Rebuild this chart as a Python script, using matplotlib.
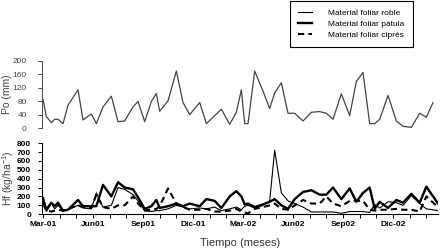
import matplotlib
matplotlib.use('Agg')
import matplotlib.pyplot as plt
from matplotlib.ticker import MultipleLocator

plt.rcParams['font.family'] = ['Liberation Sans', 'DejaVu Sans']
plt.rcParams['mathtext.default'] = 'regular'

# tiempo en meses desde marzo 2001 (muestreos quincenales)
meses_po = [0.0, 0.2, 0.5, 0.7, 0.9, 1.2, 1.5, 2.1, 2.4, 2.9,
            3.2, 3.6, 4.1, 4.5, 4.9, 5.4, 5.7, 6.1, 6.5, 6.8,
            7.0, 7.5, 8.0, 8.4, 8.8, 9.4, 9.8, 10.3, 10.7, 11.2,
            11.6, 11.9, 12.1, 12.3, 12.7, 13.2, 13.6, 13.9, 14.3, 14.7,
            15.1, 15.6, 16.1, 16.6, 17.0, 17.4, 17.9, 18.4, 18.8, 19.2,
            19.6, 19.9, 20.2, 20.7, 21.2, 21.6, 22.1, 22.6, 23.0, 23.4]
po_mm = [85, 34, 16, 26, 26, 13, 68, 114, 24, 42,
         13, 63, 95, 19, 21, 63, 79, 19, 79, 103,
         50, 81, 170, 76, 40, 76, 13, 37, 56, 11,
         47, 114, 13, 13, 170, 110, 58, 105, 135, 44,
         44, 21, 47, 49, 44, 26, 102, 37, 139, 166,
         13, 13, 26, 97, 21, 5, 2, 44, 32, 76]

meses_hf = meses_po[:-1] + [23.7]
hf_roble = [150, 30, 120, 60, 100, 40, 50, 100, 70, 60,
            240, 80, 100, 300, 280, 220, 150, 40, 30, 40,
            40, 60, 100, 80, 60, 70, 60, 80, 40, 60,
            80, 50, 90, 100, 70, 100, 150, 720, 240, 150,
            120, 80, 25, 25, 25, 25, 10, 30, 30, 30,
            20, 110, 70, 140, 130, 100, 210, 120, 60, 40]
hf_patula = [180, 50, 130, 90, 130, 40, 50, 160, 90, 90,
             90, 330, 200, 360, 300, 280, 190, 60, 90, 160,
             70, 90, 120, 90, 120, 90, 170, 150, 70, 200,
             260, 200, 110, 120, 80, 110, 140, 170, 100, 60,
             170, 250, 270, 220, 220, 300, 170, 290, 140, 240,
             300, 60, 140, 70, 160, 130, 230, 130, 310, 120]
hf_cipres = [120, 40, 30, 40, 50, 40, 60, 100, 80, 70,
             220, 80, 60, 100, 100, 200, 120, 40, 50, 60,
             90, 290, 120, 80, 50, 50, 60, 30, 30, 40,
             60, 30, 20, 10, 60, 80, 100, 120, 60, 50,
             100, 160, 120, 120, 200, 120, 90, 150, 150, 150,
             50, 40, 50, 50, 60, 50, 50, 30, 200, 80]

etiquetas_x = ['Mar-01', 'Jun01', 'Sep01', 'Dic-01', 'Mar-02', 'Jun02', 'Sep02', 'Dic-02']

fig = plt.figure(figsize=(4.4, 2.52), dpi=100)
ax_po = fig.add_axes([0.0955, 0.492, 0.9, 0.266])
ax_hf = fig.add_axes([0.0955, 0.150, 0.9, 0.282])

# --- precipitacion ---
ax_po.plot(meses_po, po_mm, color='#444444', lw=0.9)
ax_po.set_xlim(-0.06, 23.7)
ax_po.set_ylim(0, 200)
ax_po.set_yticks(range(0, 201, 40))
for s in ['top', 'right', 'bottom']:
    ax_po.spines[s].set_visible(False)
ax_po.spines['left'].set_color('#555555')
ax_po.spines['left'].set_linewidth(0.8)
ax_po.set_xticks([])
ax_po.tick_params(axis='y', length=3, width=0.7, pad=8, labelsize=6, colors='#444444')
ax_po.set_ylabel('Po (mm)', fontsize=7.5, color='#444444')
ax_po.yaxis.set_label_coords(-0.077, 0.5)

# --- hojarasca ---
l1, = ax_hf.plot(meses_hf, hf_roble, color='black', lw=0.8)
l2, = ax_hf.plot(meses_hf, hf_patula, color='black', lw=1.7)
l3, = ax_hf.plot(meses_hf, hf_cipres, color='black', lw=1.5, ls=(0, (3, 2)))
ax_hf.set_xlim(-0.06, 23.7)
ax_hf.set_ylim(0, 800)
ax_hf.yaxis.set_major_locator(MultipleLocator(100))
ax_hf.set_xticks(range(0, 22, 3))
ax_hf.set_xticklabels(etiquetas_x)
ax_hf.xaxis.set_minor_locator(MultipleLocator(1))
for s in ['top', 'right']:
    ax_hf.spines[s].set_visible(False)
for s in ['left', 'bottom']:
    ax_hf.spines[s].set_linewidth(0.8)
ax_hf.tick_params(axis='both', which='both', length=3, width=0.7, labelsize=6)
ax_hf.tick_params(axis='y', pad=5)
ax_hf.tick_params(axis='x', pad=2)
for t in ax_hf.get_xticklabels() + ax_hf.get_yticklabels():
    t.set_fontweight('bold')
ax_hf.set_ylabel('Hf (kg/ha$^{-1}$)', fontsize=7.5, color='#444444')
ax_hf.yaxis.set_label_coords(-0.066, 0.5)
ax_hf.set_xlabel('Tiempo (meses)', fontsize=8, color='#333333', labelpad=7)

leg = fig.legend([l1, l2, l3],
                 ['Material foliar roble', 'Material foliar pátula', 'Material foliar ciprés'],
                 loc='upper left', bbox_to_anchor=(0.659, 0.996), fontsize=6,
                 frameon=True, fancybox=False, edgecolor='black', framealpha=1,
                 handlelength=1.6, handletextpad=2.0, labelspacing=0.35,
                 borderpad=1.0, borderaxespad=0)
leg.get_frame().set_linewidth(0.8)

fig.savefig('out.png', dpi=100)
